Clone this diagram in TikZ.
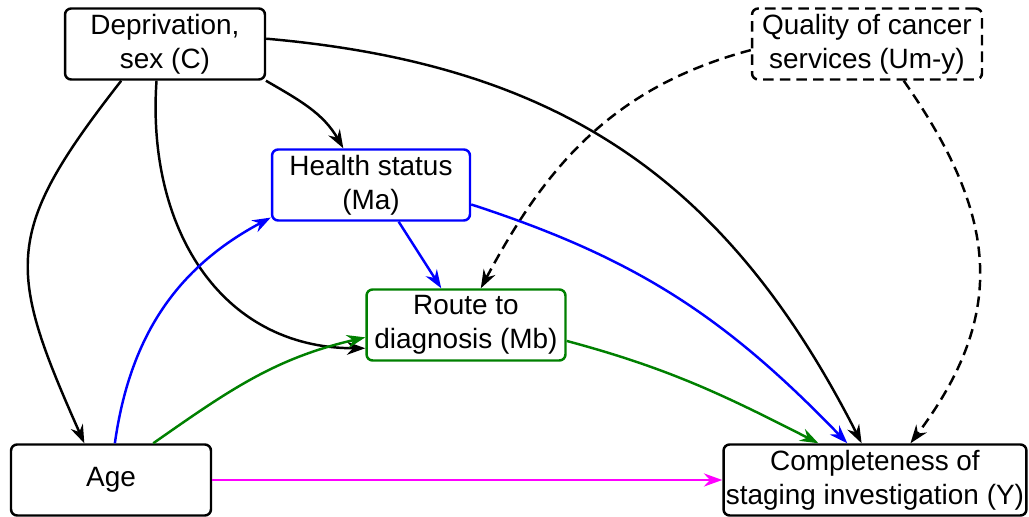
\documentclass[tikz,border=0pt]{standalone}
\usepackage{fontspec}
\setmainfont{Liberation Sans}
\usetikzlibrary{arrows.meta}
\definecolor{routegreen}{RGB}{0,128,0}
\definecolor{healthblue}{RGB}{0,0,255}
\definecolor{agemagenta}{RGB}{255,0,255}
\tikzset{
  box/.style={draw, rounded corners=3.5pt, line width=1.4pt, align=center, inner sep=0pt,
    minimum height=1.42cm, fill=white, font=\fontsize{15.9}{19.5}\selectfont},
  link/.style={line width=1.4pt, -{Stealth[length=10.5pt, width=7.5pt, inset=3.5pt]}},
  unmeasured/.style={dash pattern=on 6pt off 3.5pt},
}

\begin{document}
\begin{tikzpicture}[x=0.02cm, y=0.02cm]
			%%%%% START %%%%%
			\useasboundingbox (0,0) rectangle (1029,517);
			
			\node[box, minimum width=4cm] (C) at (165,473) {Deprivation,\\sex (C)};
			\node[box, unmeasured, minimum width=4.6cm] (U) at (867,473) {Quality of cancer\\services (Um-y)};
			\node[box, draw=healthblue, minimum width=3.96cm] (Ma) at (371,332) {Health status\\(Ma)};
			\node[box, draw=routegreen, minimum width=3.98cm] (Mb) at (466,192) {Route to\\diagnosis (Mb)};
			\node[box, minimum width=4cm] (Age) at (111,37) {Age};
			\node[box, minimum width=6.06cm] (Y) at (875,37) {Completeness of\\staging investigation (Y)};
			
			% confounders
			\draw[link] (C.220) to[out=232, in=114, looseness=1.35] (Age.126);
			\draw[link] (C.257) to[out=266, in=180, looseness=1.1] (Mb.193);
			\draw[link] (C.-20) to[out=-30, in=120] (Ma.127);
			\draw[link] (C.3) to[out=-5, in=117, looseness=1.05] (Y.110);
			
			% unmeasured
			\draw[link, unmeasured] (U.183) to[out=195, in=62] (Mb.68);
			\draw[link, unmeasured] (U.-45) to[out=-55, in=53, looseness=1.15] (Y.46);
			
			% mediators
			\draw[link, healthblue] (Ma.-53) -- (Mb.124);
			\draw[link, healthblue] (Ma.-11) to[out=-18, in=134] (Y.127);
			\draw[link, healthblue] (Age.84) to[out=82, in=208] (Ma.198);
			\draw[link, routegreen] (Age.41) to[out=35, in=193] (Mb.187);
			\draw[link, routegreen] (Mb.-9) to[out=-15, in=153] (Y.147);
			
			\draw[link, agemagenta] (Age.east) -- (Y.west);
			%%%%% END %%%%%
\end{tikzpicture}
\end{document}
